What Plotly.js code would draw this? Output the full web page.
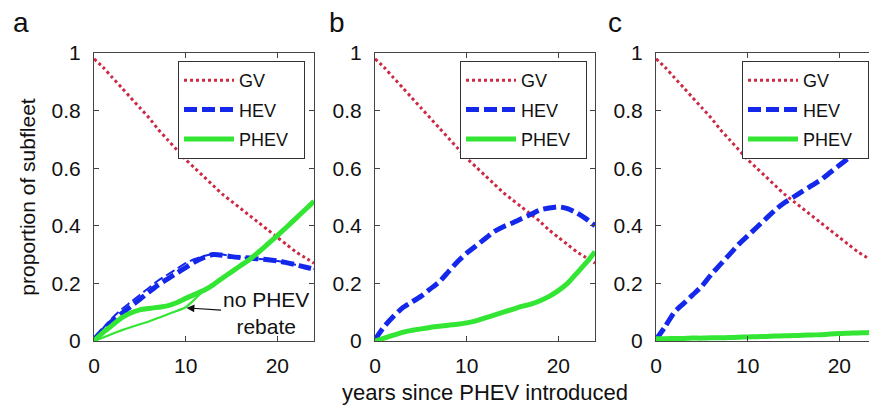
<!DOCTYPE html>
<html>
<head>
<meta charset="utf-8">
<script src="https://cdn.plot.ly/plotly-3.0.1.min.js"></script>
<style>
  html, body { margin: 0; padding: 0; background: #fff; }
  #chart { width: 869px; height: 410px; }
</style>
</head>
<body>
<div id="chart"></div>
<script>
// Years since PHEV introduction
const years = [0,1,2,3,4,5,6,7,8,9,10,11,12,13,14,15,16,17,18,19,20,21,22,23,24];

// Panel a
const gvA   = [0.98,0.95,0.915,0.88,0.845,0.81,0.775,0.735,0.70,0.665,0.63,0.60,0.57,0.54,0.51,0.485,0.46,0.435,0.41,0.385,0.36,0.335,0.31,0.29,0.27];
const hevA  = [0.005,0.04,0.07,0.095,0.12,0.145,0.17,0.195,0.215,0.235,0.255,0.275,0.29,0.30,0.298,0.293,0.29,0.288,0.285,0.282,0.278,0.272,0.265,0.257,0.25];
const phevA = [0,0.03,0.055,0.08,0.097,0.108,0.113,0.117,0.122,0.133,0.148,0.162,0.176,0.195,0.218,0.24,0.262,0.284,0.31,0.338,0.366,0.395,0.425,0.455,0.485];
// Panel a, no PHEV rebate
const hevANoRebate  = [0,0.045,0.08,0.11,0.135,0.16,0.185,0.21,0.23,0.25,0.27,0.285,0.295,0.302,0.30,0.295,0.291,0.288,0.285,0.282,0.278,0.272,0.265,0.257,0.25];
const phevANoRebate = [0,0.012,0.025,0.037,0.048,0.058,0.068,0.08,0.092,0.104,0.117,0.145,0.176,0.195,0.218,0.24,0.262,0.284,0.31,0.338,0.366,0.395,0.425,0.455,0.485];

// Panel b
const gvB   = [0.98,0.95,0.915,0.88,0.845,0.81,0.775,0.74,0.705,0.67,0.635,0.605,0.575,0.545,0.515,0.49,0.465,0.44,0.415,0.385,0.36,0.335,0.31,0.29,0.27];
const hevB  = [0.005,0.05,0.085,0.115,0.135,0.155,0.18,0.205,0.24,0.275,0.305,0.33,0.355,0.38,0.397,0.41,0.425,0.44,0.455,0.462,0.466,0.46,0.445,0.425,0.40];
const phevB = [0,0.01,0.02,0.03,0.037,0.042,0.047,0.051,0.055,0.058,0.063,0.07,0.08,0.09,0.10,0.11,0.12,0.128,0.14,0.155,0.175,0.20,0.235,0.27,0.31];

// Panel c
const gvC   = [0.98,0.95,0.915,0.88,0.845,0.81,0.775,0.735,0.70,0.665,0.63,0.60,0.57,0.54,0.51,0.485,0.46,0.435,0.41,0.385,0.36,0.335,0.31,0.29,0.27];
const hevC  = [0.005,0.05,0.10,0.13,0.16,0.19,0.23,0.265,0.30,0.335,0.365,0.395,0.425,0.455,0.48,0.50,0.52,0.54,0.56,0.585,0.61,0.635,0.66,0.685,0.71];
const phevC = [0.008,0.008,0.009,0.009,0.010,0.010,0.011,0.011,0.012,0.013,0.014,0.015,0.016,0.017,0.018,0.019,0.020,0.021,0.022,0.024,0.026,0.027,0.028,0.029,0.030];

const seriesNames = ['GV', 'HEV', 'PHEV'];
const yTicks = [0, 0.2, 0.4, 0.6, 0.8, 1];
const yTickText = ['0', '0.2', '0.4', '0.6', '0.8', '1'];
const xTicks = [0, 10, 20];
const panelLetters = ['a', 'b', 'c'];

const FONT = 'Arial, "Liberation Sans", sans-serif';
const W = 869, H = 410;
const GV_STYLE   = { color: '#cc2a44', width: 3, dash: '3px,3px' };
const HEV_STYLE  = { color: '#1428ec', width: 5, dash: '13px,5px' };
const PHEV_STYLE = { color: '#33e633', width: 5 };
// trailing padding so the legend box spans like a MATLAB legend
const PAD = '\u00a0\u00a0';

function line(y, name, style, axis, legendId, group, show) {
  return {
    type: 'scatter', mode: 'lines', x: years, y: y, name: name,
    line: Object.assign({ shape: 'spline', smoothing: 0.6 }, style),
    xaxis: 'x' + axis, yaxis: 'y' + axis,
    legend: legendId, legendgroup: group, showlegend: show,
    hoverinfo: 'skip'
  };
}

const panels = [
  { ax: '', leg: 'legend', gv: gvA, hev: hevA, phev: phevA },
  { ax: '2', leg: 'legend2', gv: gvB, hev: hevB, phev: phevB },
  { ax: '3', leg: 'legend3', gv: gvC, hev: hevC, phev: phevC }
];

const traces = [];
// thin lines: panel a without the PHEV rebate
traces.push(line(hevANoRebate, 'HEV, no PHEV rebate', Object.assign({}, HEV_STYLE, { width: 2, dash: '10px,4px' }), '', 'legend', 'nr1', false));
traces.push(line(phevANoRebate, 'PHEV, no PHEV rebate', Object.assign({}, PHEV_STYLE, { width: 2.2 }), '', 'legend', 'nr2', false));
panels.forEach((p, i) => {
  traces.push(line(p.gv,   seriesNames[0] + PAD, GV_STYLE,   p.ax, p.leg, 'g' + i + 'a', true));
  traces.push(line(p.hev,  seriesNames[1] + PAD, HEV_STYLE,  p.ax, p.leg, 'g' + i + 'b', true));
  traces.push(line(p.phev, seriesNames[2] + PAD, PHEV_STYLE, p.ax, p.leg, 'g' + i + 'c', true));
});

// plot-area pixel boxes
const yTop = 53, yBot = 341;
const boxes = [ [94, 314, 24], [375, 595, 24], [656, 869, 24 * (869 - 656) / 220] ];

function xAxis(b, anchor, extra) {
  return Object.assign({
    domain: [b[0] / W, b[1] / W], range: [0, b[2]], anchor: anchor,
    tickvals: xTicks, ticktext: xTicks.map(String),
    showline: true, linecolor: '#444', linewidth: 1, mirror: 'ticks',
    ticks: 'inside', ticklen: 5, tickcolor: '#444', ticklabelstandoff: 6,
    tickfont: { family: FONT, size: 21, color: '#111' },
    showgrid: false, zeroline: false, fixedrange: true
  }, extra || {});
}
function yAxis(anchor, extra) {
  return Object.assign({
    domain: [(H - yBot) / H, (H - yTop) / H], range: [0, 1], anchor: anchor,
    tickvals: yTicks, ticktext: yTickText,
    showline: true, linecolor: '#444', linewidth: 1, mirror: 'ticks',
    ticks: 'inside', ticklen: 5, tickcolor: '#444', ticklabelstandoff: 8,
    tickfont: { family: FONT, size: 21, color: '#111' },
    showgrid: false, zeroline: false, fixedrange: true
  }, extra || {});
}

function legendAt(px, py) {
  return {
    x: px / W, y: 1 - py / H, xanchor: 'left', yanchor: 'top',
    bgcolor: '#fff', bordercolor: '#333', borderwidth: 1,
    font: { family: FONT, size: 18, color: '#111' },
    tracegroupgap: 3, itemwidth: 50, traceorder: 'grouped'
  };
}

const annotations = panelLetters.map((t, i) => ({
  text: t, xref: 'paper', yref: 'paper',
  x: [21, 337, 615][i] / W, y: 1 - 22 / H, xanchor: 'center', yanchor: 'middle',
  showarrow: false, font: { family: FONT, size: 28, color: '#111' }
}));
annotations.push({
  text: 'no PHEV<br>rebate', xref: 'x', yref: 'y', x: 10.1, y: 0.115,
  ax: 79, ay: 5, showarrow: true, arrowhead: 2, arrowsize: 1.3, arrowwidth: 1.2,
  arrowcolor: '#111', font: { family: FONT, size: 21, color: '#111' }
});

const layout = {
  width: W, height: H,
  margin: { l: 0, r: 0, t: 0, b: 0 },
  paper_bgcolor: '#fff', plot_bgcolor: '#fff',
  showlegend: true,
  xaxis:  xAxis(boxes[0], 'y'),
  xaxis2: xAxis(boxes[1], 'y2', { title: { text: 'years since PHEV introduced', standoff: 8, font: { family: FONT, size: 22, color: '#111' } } }),
  xaxis3: xAxis(boxes[2], 'y3'),
  yaxis:  yAxis('x', { title: { text: 'proportion of subfleet', standoff: 10, font: { family: FONT, size: 21, color: '#111' } } }),
  yaxis2: yAxis('x2'),
  yaxis3: yAxis('x3', { mirror: false }),
  legend:  legendAt(178, 61),
  legend2: legendAt(460, 61),
  legend3: legendAt(742, 61),
  annotations: annotations
};

Plotly.newPlot('chart', traces, layout, { staticPlot: true, displayModeBar: false });
</script>
</body>
</html>
